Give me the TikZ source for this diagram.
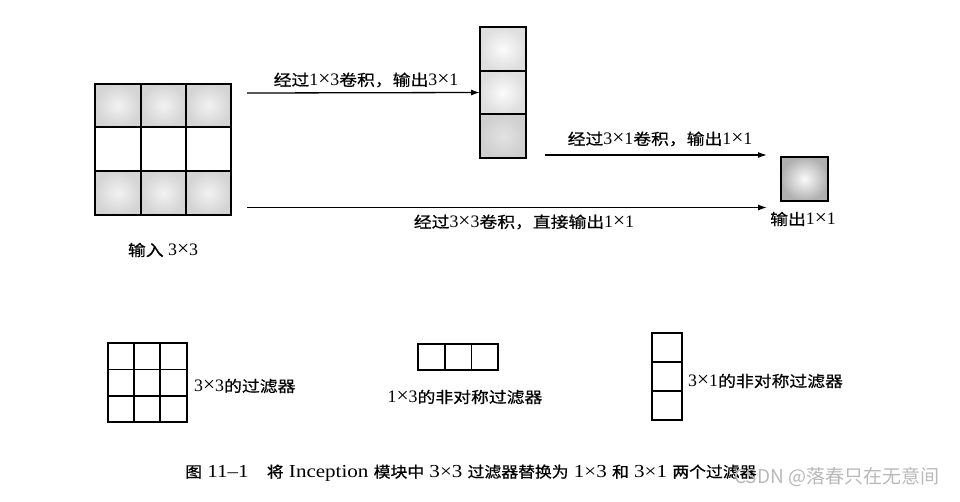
\documentclass[tikz,border=0pt]{standalone}
\usepackage{fontspec}
\setmainfont{Liberation Serif}[FakeStretch=1.15]
\newfontfamily\dgfont{Liberation Serif}[FakeStretch=1.02]
\newfontfamily\cjk{Noto Sans CJK SC}[FakeStretch=1.15,FakeBold=0.6]
\newfontfamily\cjkc{Noto Sans CJK SC}[FakeStretch=1.1,FakeBold=0.8]
\newfontfamily\wmfont{Noto Sans CJK SC}
\newcommand\zh[1]{{\cjk #1}}
\newcommand\mul{{\fontsize{21}{17}\selectfont ×}}
\newcommand\dg[1]{{\dgfont\fontsize{17.5}{18}\selectfont #1}}
\newcommand\zhc[1]{{\cjkc\fontsize{15.3}{18}\selectfont #1}}
\usetikzlibrary{arrows.meta}
\begin{document}
\begin{tikzpicture}[x=1pt,y=-1pt,
  lbl/.style={font=\fontsize{15.5}{18}\selectfont, inner sep=0pt},
  conn/.style={-{Latex[length=9pt,width=6pt]}, line width=1.3pt},
  frame/.style={draw=black, line width=2pt, inner sep=0pt, outer sep=0pt},
  thinframe/.style={draw=black, line width=1.6pt, inner sep=0pt, outer sep=0pt},
  gline/.style={line width=2pt},
  fline/.style={line width=1.6pt},
  cellshade/.style={inner color=gray!10, outer color=gray!34},
  captxt/.style={font=\fontsize{18.3}{21}\selectfont, inner sep=0pt},
  wm/.style={font=\wmfont\fontsize{19}{22}\selectfont, text=gray!55, inner sep=0pt}]
\fill[white] (0,0) rectangle (960,501);
\useasboundingbox (0,0) rectangle (960,501);

% ---- input 3x3 ----
\shade[cellshade] (95,84) rectangle (141,127);
\shade[cellshade] (141,84) rectangle (186,127);
\shade[cellshade] (186,84) rectangle (231,127);
\shade[cellshade] (95,171) rectangle (141,215);
\shade[cellshade] (141,171) rectangle (186,215);
\shade[cellshade] (186,171) rectangle (231,215);
\node[frame, minimum width=136pt, minimum height=131pt] (in) at (163,149.5) {};
\draw[gline] (141,84) -- (141,215) (186,84) -- (186,215);
\draw[gline] (95,127) -- (231,127) (95,171) -- (231,171);
\node[lbl] (inlbl) at (163,250) {\zh{输入} \dg{3\mul3}};

% ---- middle 3x1 column ----
\shade[inner color=gray!3, outer color=gray!26] (480,27) rectangle (526,71);
\shade[inner color=gray!3, outer color=gray!26] (480,71) rectangle (526,114);
\shade[inner color=gray!22, outer color=gray!38] (480,114) rectangle (526,158);
\node[frame, minimum width=46pt, minimum height=131pt] (mid) at (503,92.5) {};
\draw[gline] (480,71) -- (526,71) (480,114) -- (526,114);

% ---- output 1x1 ----
\shade[inner color=gray!4, outer color=gray!62] (781,157) rectangle (828,201);
\node[frame, minimum width=47pt, minimum height=44pt] (out) at (804.5,179) {};
\node[lbl] (outlbl) at (803,219) {\zh{输出}\dg{1\mul1}};

% ---- connectors ----
\coordinate (a1s) at (247,93);
\coordinate (a2s) at (545,155);
\coordinate (a2e) at (767,155);
\coordinate (a3s) at (247,207.5);
\coordinate (a3e) at (767,207.5);
\draw[conn] (a1s) -- (mid.west);
\draw[conn] (a2s) -- (a2e);
\draw[conn] (a3s) -- (a3e);
\node[lbl] (t1) at (366,80) {\zh{经过}\dg{1\mul3}\zh{卷积，输出}\dg{3\mul1}};
\node[lbl] (t2) at (660,139) {\zh{经过}\dg{3\mul1}\zh{卷积，输出}\dg{1\mul1}};
\node[lbl] (t3) at (524,222) {\zh{经过}\dg{3\mul3}\zh{卷积，直接输出}\dg{1\mul1}};

% ---- filters legend ----
\node[thinframe, minimum width=79pt, minimum height=79pt] (f33) at (147.5,382.5) {};
\draw[fline] (134,343) -- (134,422) (160,343) -- (160,422);
\draw[fline] (108,369.5) -- (187,369.5) (108,396) -- (187,396);
\node[lbl, anchor=west] (f33l) at (194,386) {\dg{3\mul3}\zh{的过滤器}};

\node[thinframe, minimum width=80pt, minimum height=26pt] (f13) at (458,357) {};
\draw[fline] (444.7,344) -- (444.7,370) (471.3,344) -- (471.3,370);
\node[lbl] (f13l) at (465,397) {\dg{1\mul3}\zh{的非对称过滤器}};

\node[thinframe, minimum width=30pt, minimum height=87pt] (f31) at (667,376.5) {};
\draw[fline] (652,362) -- (682,362) (652,391) -- (682,391);
\node[lbl, anchor=west] (f31l) at (688,381) {\dg{3\mul1}\zh{的非对称过滤器}};

% ---- caption ----
\node[captxt, anchor=west] (captn) at (185,473) {\zhc{图} 11–1\quad\zhc{将} Inception \zhc{模块中} 3×3 \zhc{过滤器替换为} 1×3 \zhc{和} 3×1 \zhc{两个过滤器}};
\node[wm, anchor=west] (wm) at (734,477) {CSDN @落春只在无意间};
\end{tikzpicture}
\end{document}
